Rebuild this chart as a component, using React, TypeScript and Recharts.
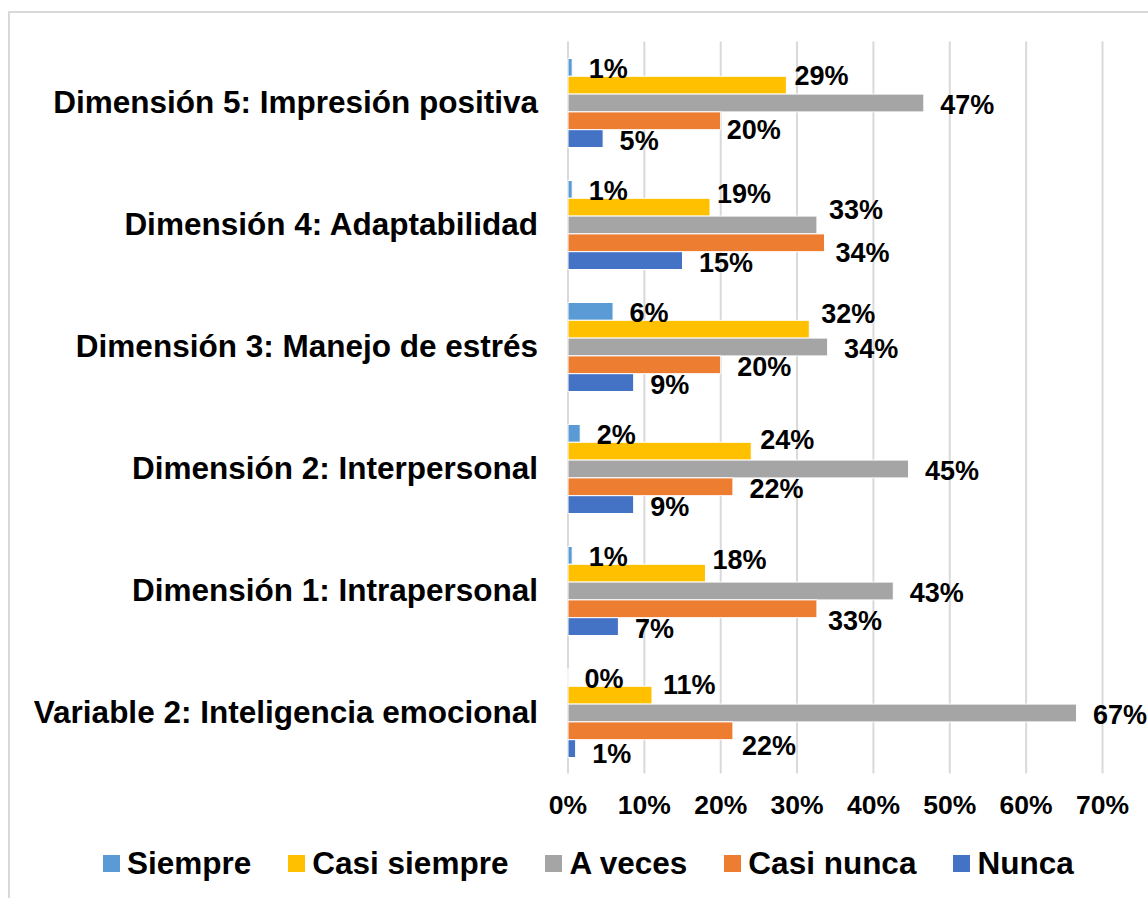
import React from 'react';
import { BarChart, Bar, XAxis, YAxis, CartesianGrid, LabelList, Legend } from 'recharts';

const categories = [
  'Dimensión 5: Impresión positiva',
  'Dimensión 4: Adaptabilidad',
  'Dimensión 3: Manejo de estrés',
  'Dimensión 2: Interpersonal',
  'Dimensión 1: Intrapersonal',
  'Variable 2: Inteligencia emocional',
];
const siempre = [0.0055, 0.0055, 0.059, 0.016, 0.0055, 0];
const casiSiempre = [0.286, 0.186, 0.316, 0.24, 0.18, 0.11];
const aVeces = [0.466, 0.326, 0.34, 0.446, 0.426, 0.666];
const casiNunca = [0.2, 0.336, 0.2, 0.216, 0.326, 0.216];
const nunca = [0.046, 0.15, 0.086, 0.086, 0.066, 0.01];
const xTicks = [0, 0.1, 0.2, 0.3, 0.4, 0.5, 0.6, 0.7];

const seriesNames = ['Siempre', 'Casi siempre', 'A veces', 'Casi nunca', 'Nunca'];
const seriesKeys = ['siempre', 'casiSiempre', 'aVeces', 'casiNunca', 'nunca'];
const seriesValues = [siempre, casiSiempre, aVeces, casiNunca, nunca];
const seriesColors = ['#5B9BD5', '#FFC000', '#A5A5A5', '#ED7D31', '#4472C4'];

// label placement tweaks (gap from bar end, vertical shift), like Excel's overlap avoidance
const labelNudge: Record<string, Record<number, [number, number]>> = {
  casiSiempre: { 0: [8, -9.5], 1: [7, -13], 2: [12, -15], 3: [9, -11], 4: [7, -13], 5: [11, -10] },
  aVeces: { 1: [12, -15.5] },
  casiNunca: { 0: [6, 9], 1: [11, 10], 4: [11, 12], 5: [9, 15] },
  nunca: { 5: [16.5, 5] },
};

const data = categories.map((name, i) => {
  const row: Record<string, any> = { name };
  seriesKeys.forEach((k, s) => {
    row[k] = seriesValues[s][i];
  });
  return row;
});

const FONT = '"Liberation Sans", Arial, sans-serif';

const makeLabel = (key: string) => (props: any) => {
  const { x, y, width, height, value, index } = props;
  const nudge = (labelNudge[key] && labelNudge[key][index]) || [16.5, 2];
  return (
    <text
      x={Number(x) + Number(width) + nudge[0]}
      y={Number(y) + Number(height) / 2 + nudge[1]}
      dominantBaseline="central"
      textAnchor="start"
      fontFamily={FONT}
      fontWeight="bold"
      fontSize={27}
      fill="#000"
    >
      {Math.round(Number(value) * 100)}%
    </text>
  );
};

const XTick = (props: any) => {
  const { x, y, payload } = props;
  return (
    <text
      x={x}
      y={Number(y) + 31.5}
      textAnchor="middle"
      dominantBaseline="central"
      fontFamily={FONT}
      fontWeight="bold"
      fontSize={26.5}
      fill="#000"
    >
      {Math.round(payload.value * 100)}%
    </text>
  );
};

const YTick = (props: any) => {
  const { x, y, payload } = props;
  return (
    <text
      x={Number(x) - 30}
      y={Number(y) + 10}
      textAnchor="end"
      fontFamily={FONT}
      fontWeight="bold"
      fontSize={31.5}
      fill="#000"
    >
      {payload.value}
    </text>
  );
};

const LegendContent = () => (
  <div style={{ display: 'flex', alignItems: 'center', whiteSpace: 'nowrap' }}>
    {seriesNames.map((n, i) => (
      <div key={n} style={{ display: 'flex', alignItems: 'center', marginRight: 37 }}>
        <span
          style={{
            display: 'inline-block',
            width: 17,
            height: 17,
            background: seriesColors[i],
            marginRight: 7,
          }}
        />
        <span style={{ fontFamily: FONT, fontWeight: 'bold', fontSize: 31.5, color: '#000', lineHeight: '34px' }}>
          {n}
        </span>
      </div>
    ))}
  </div>
);

const minSize = (value: any) => (Number(value) === 0 ? 0.01 : 0);

export default function App() {
  return (
    <div
      style={{
        position: 'absolute',
        left: 0,
        top: 0,
        width: 1148,
        height: 898,
        overflow: 'hidden',
        background: '#fff',
      }}
    >
      <div
        style={{
          position: 'absolute',
          left: 8,
          top: 11,
          width: 1300,
          height: 1000,
          border: '2px solid #D9D9D9',
        }}
      />
      <div style={{ position: 'absolute', left: 0, top: 0 }}>
        <BarChart
          width={1148}
          height={898}
          data={data}
          layout="vertical"
          margin={{ top: 41.5, right: 45.5, bottom: 64.5, left: 0 }}
          barGap={0}
          barSize={17.8}
        >
          <CartesianGrid horizontal={false} vertical={true} stroke="#D9D9D9" strokeWidth={2} />
          <XAxis
            type="number"
            domain={[0, 0.7]}
            ticks={xTicks}
            axisLine={false}
            tickLine={false}
            tickSize={0}
            tickMargin={0}
            height={60}
            tick={<XTick />}
            interval={0}
          />
          <YAxis
            type="category"
            dataKey="name"
            width={568}
            axisLine={false}
            tickLine={false}
            tickSize={0}
            tickMargin={0}
            tick={<YTick />}
            interval={0}
          />
          <Legend
            layout="horizontal"
            verticalAlign="middle"
            align="center"
            content={<LegendContent />}
            wrapperStyle={{ left: 103, top: 846, width: 1100 }}
          />
          {seriesKeys.map((k, s) => (
            <Bar
              key={k}
              dataKey={k}
              name={seriesNames[s]}
              fill={seriesColors[s]}
              stroke="#ffffff"
              strokeWidth={1}
              minPointSize={minSize}
              isAnimationActive={false}
            >
              <LabelList dataKey={k} content={makeLabel(k)} />
            </Bar>
          ))}
        </BarChart>
      </div>
    </div>
  );
}
